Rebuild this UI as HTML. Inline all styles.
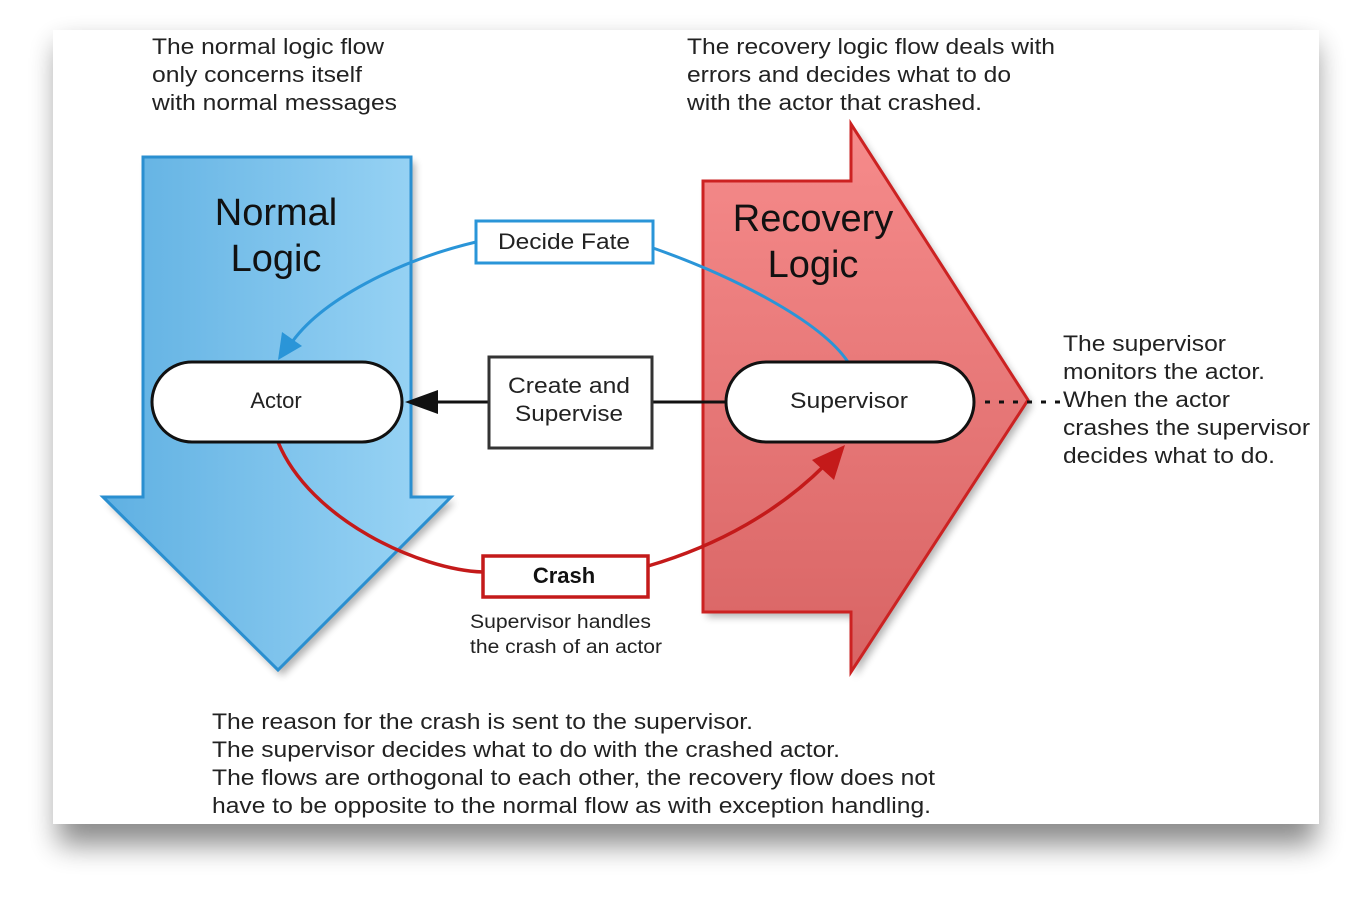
<!DOCTYPE html>
<html><head><style>
body{margin:0;background:#fff;}
svg{display:block;font-family:"Liberation Sans",sans-serif;}
</style></head><body>
<svg width="1372" height="900" viewBox="0 0 1372 900" xmlns="http://www.w3.org/2000/svg">
<defs>
<filter id="sh" x="-10%" y="-10%" width="120%" height="125%"><feGaussianBlur stdDeviation="14"/></filter>
<filter id="sh2" x="-10%" y="-10%" width="130%" height="130%"><feGaussianBlur stdDeviation="4"/></filter>
<linearGradient id="bg" x1="0" x2="1" y1="0" y2="0"><stop offset="0" stop-color="#5fb0e2"/><stop offset="1" stop-color="#9dd6f6"/></linearGradient>
<linearGradient id="rg" x1="0" x2="0" y1="0" y2="1"><stop offset="0" stop-color="#f68b8b"/><stop offset="1" stop-color="#d86464"/></linearGradient>
</defs>
<rect x="58" y="45" width="1258" height="800" fill="#000" opacity="0.45" filter="url(#sh)"/>
<rect x="53" y="30" width="1266" height="794" fill="#fff"/>
<g font-size="22" fill="#222" lengthAdjust="spacingAndGlyphs">
<text x="152" y="54" textLength="232" lengthAdjust="spacingAndGlyphs">The normal logic flow</text>
<text x="152" y="82" textLength="210" lengthAdjust="spacingAndGlyphs">only concerns itself</text>
<text x="152" y="110" textLength="245" lengthAdjust="spacingAndGlyphs">with normal messages</text>
<text x="687" y="54" textLength="368" lengthAdjust="spacingAndGlyphs">The recovery logic flow deals with</text>
<text x="687" y="82" textLength="324" lengthAdjust="spacingAndGlyphs">errors and decides what to do</text>
<text x="687" y="110" textLength="295" lengthAdjust="spacingAndGlyphs">with the actor that crashed.</text>
</g>
<path d="M147,162 L415,162 L415,502 L455,502 L282,676 L107,502 L147,502 Z" fill="#000" opacity="0.3" filter="url(#sh2)"/>
<path d="M143,157 L411,157 L411,497 L451,497 L278,670 L103,497 L143,497 Z" fill="url(#bg)" stroke="#2a8fd0" stroke-width="3"/>
<path d="M707,186 L855,186 L855,129 L1032,405 L855,677 L855,617 L707,617 Z" fill="#000" opacity="0.3" filter="url(#sh2)"/>
<path d="M703,181 L851,181 L851,124 L1028,400 L851,672 L851,612 L703,612 Z" fill="url(#rg)" stroke="#cc2222" stroke-width="3"/>
<text x="276" y="225" font-size="38" text-anchor="middle" fill="#111">Normal</text>
<text x="276" y="271" font-size="38" text-anchor="middle" fill="#111">Logic</text>
<text x="813" y="231" font-size="38" text-anchor="middle" fill="#111">Recovery</text>
<text x="813" y="277" font-size="38" text-anchor="middle" fill="#111">Logic</text>
<path d="M476,242 C400,260 320,300 290,345" fill="none" stroke="#2a95d8" stroke-width="3"/>
<path d="M278,360 L282,332 L302,346 Z" fill="#2a95d8"/>
<path d="M653,248 C730,275 820,320 848,362" fill="none" stroke="#2a95d8" stroke-width="3"/>
<path d="M278,442 C310,520 420,570 483,572" fill="none" stroke="#c41a1a" stroke-width="3.5"/>
<path d="M648,566 C720,545 780,510 825,465" fill="none" stroke="#c41a1a" stroke-width="3.5"/>
<path d="M845,445 L834,480 L812,460 Z" fill="#c41a1a"/>
<line x1="652" y1="402" x2="726" y2="402" stroke="#111" stroke-width="3"/>
<line x1="430" y1="402" x2="489" y2="402" stroke="#111" stroke-width="3"/>
<path d="M405,402 L438,390 L438,414 Z" fill="#111"/>
<line x1="985" y1="402" x2="1065" y2="402" stroke="#111" stroke-width="3" stroke-dasharray="5,9"/>
<rect x="152" y="362" width="250" height="80" rx="40" fill="#fff" stroke="#111" stroke-width="3"/>
<text x="276" y="408" font-size="22" text-anchor="middle" fill="#222">Actor</text>
<rect x="726" y="362" width="248" height="80" rx="40" fill="#fff" stroke="#111" stroke-width="3"/>
<text x="849" y="408" font-size="22" text-anchor="middle" fill="#222" textLength="118" lengthAdjust="spacingAndGlyphs">Supervisor</text>
<rect x="489" y="357" width="163" height="91" fill="#fff" stroke="#333" stroke-width="3"/>
<text x="569" y="393" font-size="22" text-anchor="middle" fill="#222" textLength="122" lengthAdjust="spacingAndGlyphs">Create and</text>
<text x="569" y="421" font-size="22" text-anchor="middle" fill="#222" textLength="108" lengthAdjust="spacingAndGlyphs">Supervise</text>
<rect x="476" y="221" width="177" height="42" fill="#fff" stroke="#2a95d8" stroke-width="3"/>
<text x="564" y="249" font-size="22" text-anchor="middle" fill="#222" textLength="132" lengthAdjust="spacingAndGlyphs">Decide Fate</text>
<rect x="483" y="556" width="165" height="41" fill="#fff" stroke="#c41a1a" stroke-width="3.5"/>
<text x="564" y="583" font-size="22" font-weight="bold" text-anchor="middle" fill="#111">Crash</text>
<g font-size="19" fill="#222">
<text x="470" y="628" textLength="181" lengthAdjust="spacingAndGlyphs">Supervisor handles</text>
<text x="470" y="653" textLength="192" lengthAdjust="spacingAndGlyphs">the crash of an actor</text>
</g>
<g font-size="22" fill="#222">
<text x="1063" y="351" textLength="163" lengthAdjust="spacingAndGlyphs">The supervisor</text>
<text x="1063" y="379" textLength="202" lengthAdjust="spacingAndGlyphs">monitors the actor.</text>
<text x="1063" y="407" textLength="167" lengthAdjust="spacingAndGlyphs">When the actor</text>
<text x="1063" y="435" textLength="247" lengthAdjust="spacingAndGlyphs">crashes the supervisor</text>
<text x="1063" y="463" textLength="212" lengthAdjust="spacingAndGlyphs">decides what to do.</text>
<text x="212" y="729" textLength="541" lengthAdjust="spacingAndGlyphs">The reason for the crash is sent to the supervisor.</text>
<text x="212" y="757" textLength="628" lengthAdjust="spacingAndGlyphs">The supervisor decides what to do with the crashed actor.</text>
<text x="212" y="785" textLength="723" lengthAdjust="spacingAndGlyphs">The flows are orthogonal to each other, the recovery flow does not</text>
<text x="212" y="813" textLength="719" lengthAdjust="spacingAndGlyphs">have to be opposite to the normal flow as with exception handling.</text>
</g>
</svg>
</body></html>
